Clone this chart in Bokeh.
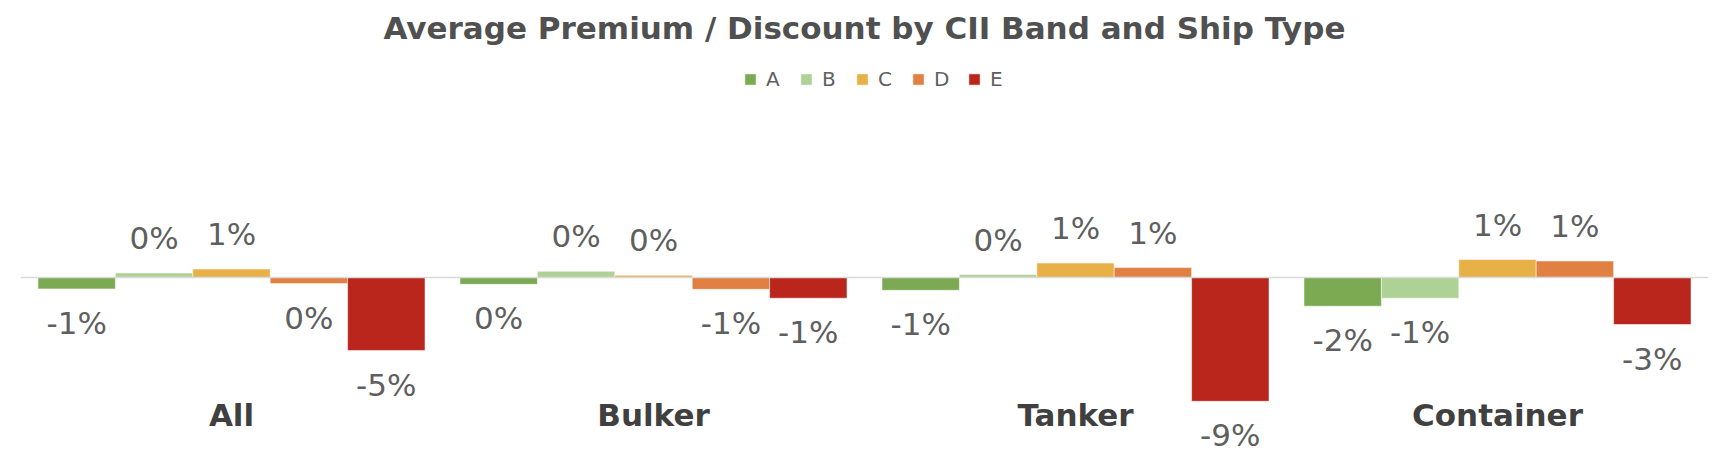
from bokeh.plotting import figure
from bokeh.models import FactorRange, ColumnDataSource, Span, Legend, LegendItem
from bokeh.core.properties import value
from bokeh.embed import file_html
from bokeh.resources import INLINE

# ---- data (percent) ----
groups = ["All", "Bulker", "Tanker", "Container"]
bands = ["A", "B", "C", "D", "E"]
band_A = [-0.80, -0.48, -0.90, -2.01]
band_B = [0.31, 0.43, 0.20, -1.45]
band_C = [0.59, 0.15, 1.01, 1.25]
band_D = [-0.43, -0.83, 0.69, 1.15]
band_E = [-5.11, -1.45, -8.66, -3.29]
colors = ["#7BAA52", "#AED296", "#E8B148", "#E08043", "#BA261B"]
title_text = "Average Premium / Discount by CII Band and Ship Type"

series = [band_A, band_B, band_C, band_D, band_E]

FONT = "DejaVu Sans"
GRAY = "#5f5f5f"

x_range = FactorRange(
    factors=[(g, b) for g in groups for b in bands],
    group_padding=0.452, factor_padding=0.0,
    range_padding=0.226, range_padding_units="absolute",
)

p = figure(
    width=1712, height=456, x_range=x_range, y_range=(-12.52, 15.73),
    output_backend="svg", toolbar_location=None, tools="",
    min_border_left=20, min_border_right=4, min_border_bottom=0, min_border_top=52,
)
p.outline_line_color = None
p.xgrid.visible = False
p.ygrid.visible = False
p.xaxis.visible = False
p.yaxis.visible = False
p.background_fill_color = "white"
p.border_fill_color = "white"

p.title.text = title_text
p.title.align = "center"
p.title.text_font = FONT
p.title.text_font_size = "31px"
p.title.text_font_style = "bold"
p.title.text_color = "#505050"
p.title.standoff = 13

p.add_layout(Span(location=0, dimension="width", line_color="#D9D9D9", line_width=1.5))

items = []
for band, vals, col in zip(bands, series, colors):
    xs = [(g, band) for g in groups]
    src = ColumnDataSource(dict(
        x=xs, top=vals,
        label=[f"{int(round(v))}%" for v in vals],
        off=[-35 if v >= 0 else 34 for v in vals],
    ))
    r = p.vbar(x="x", top="top", bottom=0, width=1.0, source=src,
               fill_color=col, line_color="white", line_alpha=0.5, line_width=1)
    p.text(x="x", y="top", text="label", y_offset="off", source=src,
           text_align="center", text_baseline="middle",
           text_font=value(FONT), text_font_size="31px", text_color=GRAY)
    items.append(LegendItem(label=band, renderers=[r]))

cat_src = ColumnDataSource(dict(x=groups, y=[0] * len(groups)))
p.text(x="x", y="y", text="x", y_offset=138, source=cat_src,
       text_align="center", text_baseline="middle",
       text_font=value(FONT), text_font_size="31px", text_font_style="bold",
       text_color="#404040")

legend = Legend(items=items, orientation="horizontal", location=(723, 365),
                label_text_font=FONT, label_text_font_size="20px", label_text_color=GRAY,
                glyph_width=14, glyph_height=14, label_standoff=9, spacing=13,
                padding=0, margin=0, border_line_color=None, background_fill_alpha=0)
p.add_layout(legend)

open("out.html", "w").write(file_html(p, INLINE))
